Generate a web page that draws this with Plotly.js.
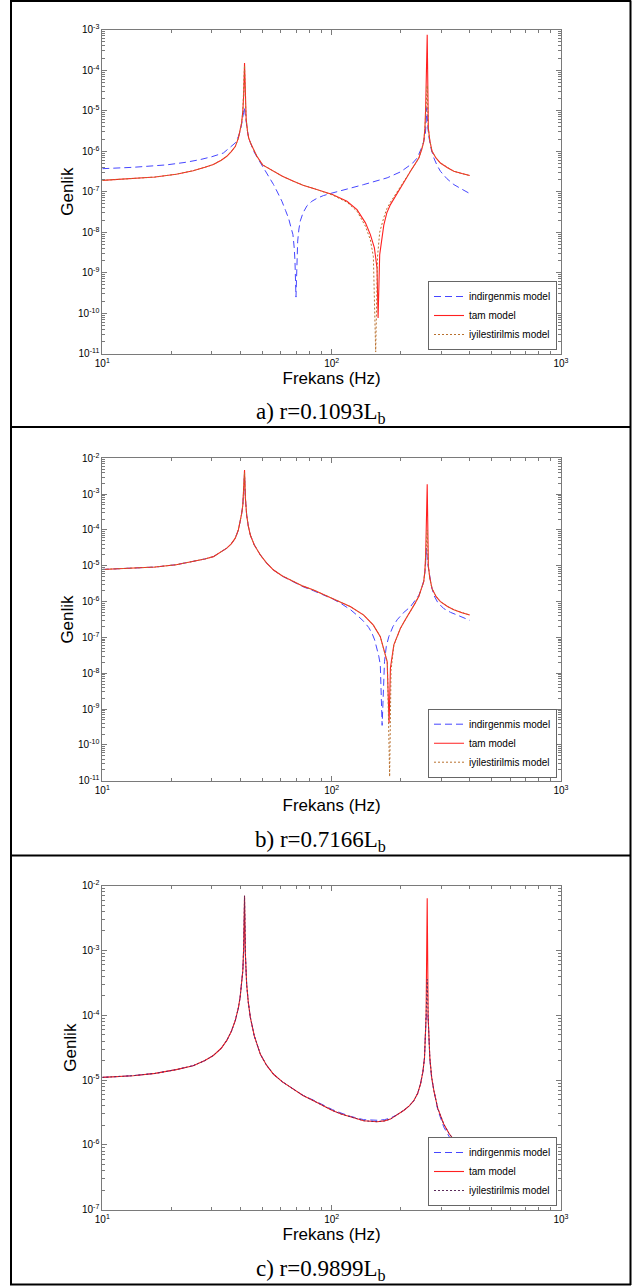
<!DOCTYPE html>
<html><head><meta charset="utf-8">
<script src="https://cdn.plot.ly/plotly-3.0.1.min.js"></script>
<style>html,body{margin:0;padding:0;background:#fff}#chart{width:632px;height:1286px}</style>
</head><body><div id="chart"></div>
<script>
// ---------- data ----------
const seriesNames = ['indirgenmis model', 'tam model', 'iyilestirilmis model'];
const captions = ['a) r=0.1093L<sub>b</sub>', 'b) r=0.7166L<sub>b</sub>', 'c) r=0.9899L<sub>b</sub>'];

// Panel a (r = 0.1093 Lb)
const fa_ind = [10, 13.6, 19.1, 23, 26.7, 30, 33.7, 36, 38.0, 39.2, 39.9, 40.6, 41.0, 41.3, 41.6, 42.0, 42.3, 43.0, 43.5, 44.5, 45.7, 48, 50.5, 53, 55.8, 58, 60.7, 63, 64.9, 66.5, 67.8, 68.7, 69.2, 69.9, 70.5, 71.1, 72, 73.0, 75, 78.1, 82, 86.4, 92, 98.6, 138, 174.6, 200, 213, 225, 236, 243, 248, 253, 256, 258, 260, 263, 266, 272, 279, 288, 298, 318, 341, 370, 400];
const a_ind = [3.7e-7, 4.0e-7, 4.6e-7, 5.3e-7, 6.2e-7, 7.3e-7, 9.0e-7, 1.2e-6, 1.6e-6, 2.3e-6, 3.1e-6, 5.0e-6, 6.5e-6, 9.0e-6, 1.2e-5, 8.0e-6, 5.0e-6, 3.0e-6, 2.1e-6, 1.45e-6, 1.0e-6, 6.2e-7, 3.9e-7, 2.5e-7, 1.5e-7, 9.8e-8, 5.8e-8, 3.4e-8, 2.2e-8, 1.3e-8, 8.7e-9, 4.0e-9, 1.9e-9, 2.5e-10, 2.5e-9, 6.0e-9, 1.2e-8, 1.9e-8, 3.0e-8, 4.5e-8, 5.8e-8, 6.9e-8, 8.0e-8, 9.0e-8, 1.5e-7, 2.2e-7, 3.1e-7, 3.9e-7, 5.0e-7, 6.8e-7, 9.5e-7, 1.3e-6, 1.9e-6, 2.6e-6, 4.5e-6, 1.2e-5, 3.5e-6, 2.1e-6, 1.1e-6, 6.8e-7, 4.5e-7, 3.2e-7, 2.1e-7, 1.5e-7, 1.15e-7, 9.0e-8];
const fa_tam = [10, 13.6, 17, 21, 24.9, 28, 30.5, 33, 34.9, 36.5, 38.0, 39.2, 39.9, 40.5, 41.0, 41.35, 41.7, 42.05, 42.4, 43.0, 43.5, 44.5, 45.7, 47.2, 50, 55.8, 61, 68.2, 75, 83.4, 92, 100.8, 116.6, 129, 140.4, 147.5, 153.6, 157.7, 159.4, 162, 168.8, 174, 180.4, 190, 199.5, 210, 220.6, 230, 240, 247, 252, 255, 257, 261, 264, 268, 274, 285, 298, 320, 341, 370, 400];
const a_tam = [1.9e-7, 2.1e-7, 2.3e-7, 2.7e-7, 3.3e-7, 4.0e-7, 4.7e-7, 6.0e-7, 7.5e-7, 9.8e-7, 1.3e-6, 2.1e-6, 3.1e-6, 5.0e-6, 9.8e-6, 2.5e-5, 1.5e-4, 2.0e-5, 6.0e-6, 3.0e-6, 2.1e-6, 1.5e-6, 1.1e-6, 7.5e-7, 4.6e-7, 3.2e-7, 2.4e-7, 1.8e-7, 1.45e-7, 1.2e-7, 1.0e-7, 8.5e-8, 5.8e-8, 3.6e-8, 1.7e-8, 8.7e-9, 4.1e-9, 1.3e-9, 7.6e-11, 2.8e-9, 1.5e-8, 3.0e-8, 4.8e-8, 8.0e-8, 1.2e-7, 2.0e-7, 3.2e-7, 4.6e-7, 6.8e-7, 1.1e-6, 1.7e-6, 3.5e-6, 1.2e-5, 7.5e-4, 3.7e-6, 1.8e-6, 1.0e-6, 6.8e-7, 5.1e-7, 3.9e-7, 3.2e-7, 2.8e-7, 2.5e-7];
const fa_iyi = [10, 13.6, 17, 21, 24.9, 28, 30.5, 33, 34.9, 36.5, 38.0, 39.2, 39.9, 40.5, 41.0, 41.35, 41.7, 42.05, 42.4, 43.0, 43.5, 44.5, 45.7, 47.2, 50, 55.8, 61, 68.2, 75, 83.4, 92, 100.8, 116.6, 129, 140.4, 147.5, 152, 155.6, 158.5, 162, 168.8, 174, 180.4, 190, 199.5, 210, 220.6, 230, 240, 247, 252, 255, 257, 261, 264, 268, 274, 285, 298, 320, 341, 370, 400];
const a_iyi = [1.9e-7, 2.1e-7, 2.3e-7, 2.7e-7, 3.3e-7, 4.0e-7, 4.7e-7, 6.0e-7, 7.5e-7, 9.8e-7, 1.3e-6, 2.1e-6, 3.1e-6, 5.0e-6, 9.5e-6, 2.4e-5, 1.3e-4, 2.0e-5, 6.0e-6, 3.0e-6, 2.1e-6, 1.5e-6, 1.1e-6, 7.5e-7, 4.6e-7, 3.2e-7, 2.4e-7, 1.8e-7, 1.45e-7, 1.2e-7, 1.0e-7, 8.3e-8, 5.5e-8, 3.3e-8, 1.4e-8, 6.5e-9, 2.5e-9, 1.1e-11, 2.5e-9, 1.0e-8, 2.3e-8, 3.8e-8, 5.5e-8, 8.6e-8, 1.25e-7, 2.0e-7, 3.2e-7, 4.6e-7, 6.8e-7, 1.1e-6, 1.7e-6, 3.5e-6, 1.2e-5, 4.2e-5, 3.7e-6, 1.8e-6, 1.0e-6, 6.8e-7, 5.1e-7, 3.9e-7, 3.2e-7, 2.8e-7, 2.5e-7];

// Panel b (r = 0.7166 Lb)
const fb_ind = [10, 13.6, 17, 21, 24.9, 28, 30.5, 33, 34.9, 36.5, 38.0, 39.2, 39.9, 40.5, 41.0, 41.35, 41.7, 42.05, 42.6, 43.3, 44.2, 46, 48.9, 52, 55.8, 61, 68.2, 75, 83.4, 92, 100.8, 110, 121, 130, 138, 145, 150, 154, 157.7, 160.5, 163, 166, 170, 173, 177.5, 185, 193, 205, 220.6, 230, 240, 247, 252, 256, 259, 262, 266, 272, 279, 290, 308, 330, 353, 375, 400];
const b_ind = [7.9e-6, 8.5e-6, 9.2e-6, 1.07e-5, 1.3e-5, 1.55e-5, 1.8e-5, 2.4e-5, 3.1e-5, 4.1e-5, 5.9e-5, 1.0e-4, 1.7e-4, 2.8e-4, 5.0e-4, 1.1e-3, 3.5e-3, 8.0e-4, 2.6e-4, 1.3e-4, 7.2e-5, 3.8e-5, 2.0e-5, 1.2e-5, 7.6e-6, 5.1e-6, 3.5e-6, 2.6e-6, 2.0e-6, 1.55e-6, 1.2e-6, 8.8e-7, 5.9e-7, 4.0e-7, 2.8e-7, 1.9e-7, 1.3e-7, 8.5e-8, 4.9e-8, 3.0e-8, 1.7e-8, 3.5e-10, 2.1e-8, 5.5e-8, 1.05e-7, 2.0e-7, 3.1e-7, 4.8e-7, 7.2e-7, 1.0e-6, 1.5e-6, 2.4e-6, 3.8e-6, 8.0e-6, 3.1e-5, 1.2e-5, 6.8e-6, 2.8e-6, 1.5e-6, 9.5e-7, 6.4e-7, 5.0e-7, 4.2e-7, 3.5e-7, 3.0e-7];
const fb_tam = [10, 13.6, 17, 21, 24.9, 28, 30.5, 33, 34.9, 36.5, 38.0, 39.2, 39.9, 40.5, 41.0, 41.35, 41.7, 42.05, 42.6, 43.3, 44.2, 46, 48.9, 52, 55.8, 61, 68.2, 75, 83.4, 92, 100.8, 110, 121, 138, 152, 163, 170.6, 174.6, 178, 180.4, 186.7, 199.5, 210, 220.6, 230, 240, 247, 252, 255, 257, 261, 264, 268, 274, 285, 298, 320, 341, 370, 400];
const b_tam = [7.9e-6, 8.5e-6, 9.2e-6, 1.07e-5, 1.3e-5, 1.55e-5, 1.8e-5, 2.4e-5, 3.1e-5, 4.1e-5, 5.9e-5, 1.0e-4, 1.7e-4, 2.8e-4, 5.0e-4, 1.1e-3, 4.7e-3, 8.0e-4, 2.6e-4, 1.3e-4, 7.2e-5, 3.8e-5, 2.0e-5, 1.2e-5, 7.6e-6, 5.2e-6, 3.6e-6, 2.7e-6, 2.1e-6, 1.6e-6, 1.25e-6, 9.8e-7, 7.2e-7, 4.2e-7, 2.2e-7, 1.05e-7, 4.0e-8, 2.1e-8, 4.0e-10, 1.4e-8, 6.2e-8, 1.8e-7, 3.2e-7, 5.2e-7, 8.5e-7, 1.4e-6, 2.3e-6, 3.6e-6, 7.0e-6, 2.0e-5, 1.9e-3, 1.0e-5, 4.5e-6, 2.3e-6, 1.4e-6, 1.0e-6, 7.3e-7, 5.9e-7, 4.9e-7, 4.2e-7];
const fb_iyi = [10, 13.6, 17, 21, 24.9, 28, 30.5, 33, 34.9, 36.5, 38.0, 39.2, 39.9, 40.5, 41.0, 41.35, 41.7, 42.05, 42.6, 43.3, 44.2, 46, 48.9, 52, 55.8, 61, 68.2, 75, 83.4, 92, 100.8, 110, 121, 138, 152, 163, 170.6, 175, 179, 181.5, 186.7, 199.5, 210, 220.6, 230, 240, 247, 252, 255, 257, 261, 264, 268, 274, 285, 298, 320, 341, 370, 400];
const b_iyi = [7.9e-6, 8.5e-6, 9.2e-6, 1.07e-5, 1.3e-5, 1.55e-5, 1.8e-5, 2.4e-5, 3.1e-5, 4.1e-5, 5.9e-5, 1.0e-4, 1.7e-4, 2.8e-4, 5.0e-4, 1.1e-3, 4.0e-3, 8.0e-4, 2.6e-4, 1.3e-4, 7.2e-5, 3.8e-5, 2.0e-5, 1.2e-5, 7.6e-6, 5.2e-6, 3.6e-6, 2.7e-6, 2.1e-6, 1.6e-6, 1.25e-6, 9.8e-7, 7.2e-7, 4.2e-7, 2.2e-7, 1.05e-7, 4.0e-8, 2.0e-8, 1.3e-11, 1.2e-8, 6.0e-8, 1.8e-7, 3.2e-7, 5.2e-7, 8.5e-7, 1.4e-6, 2.3e-6, 3.6e-6, 7.0e-6, 2.0e-5, 1.0e-4, 1.0e-5, 4.5e-6, 2.3e-6, 1.4e-6, 1.0e-6, 7.3e-7, 5.9e-7, 4.9e-7, 4.2e-7];

// Panel c (r = 0.9899 Lb)
const fc = [10, 13.6, 17, 21, 24.9, 28, 30.5, 33, 34.9, 36.5, 38.0, 39.2, 39.9, 40.5, 41.0, 41.35, 41.7, 42.05, 42.6, 43.3, 44.2, 46, 48.9, 52, 55.8, 61, 68.2, 75, 83.4, 92, 100.8, 110, 121, 138, 157.7, 170, 180.4, 192, 206, 218, 228, 237, 244, 250, 254, 258, 261, 263.5, 268, 273, 279, 290, 308, 325, 341, 370, 400];
const c_ind = [1.1e-5, 1.17e-5, 1.27e-5, 1.45e-5, 1.67e-5, 2.0e-5, 2.4e-5, 3.1e-5, 4.1e-5, 5.6e-5, 8.3e-5, 1.3e-4, 1.9e-4, 3.0e-4, 4.9e-4, 1.1e-3, 5.5e-3, 9.0e-4, 3.0e-4, 1.6e-4, 9.3e-5, 4.8e-5, 2.5e-5, 1.7e-5, 1.23e-5, 9.4e-6, 7.2e-6, 5.8e-6, 4.9e-6, 4.1e-6, 3.5e-6, 3.1e-6, 2.75e-6, 2.45e-6, 2.4e-6, 2.45e-6, 2.6e-6, 2.9e-6, 3.4e-6, 4.0e-6, 4.8e-6, 6.2e-6, 8.7e-6, 1.35e-5, 2.2e-5, 9.0e-5, 1.1e-4, 9.0e-5, 2.1e-5, 1.05e-5, 6.7e-6, 3.5e-6, 1.9e-6, 1.35e-6, 1.0e-6, 8.0e-7, 6.4e-7];
const c_tam = [1.1e-5, 1.17e-5, 1.27e-5, 1.45e-5, 1.67e-5, 2.0e-5, 2.4e-5, 3.1e-5, 4.1e-5, 5.6e-5, 8.3e-5, 1.3e-4, 1.9e-4, 3.0e-4, 4.9e-4, 1.1e-3, 7.0e-3, 9.0e-4, 3.0e-4, 1.6e-4, 9.3e-5, 4.8e-5, 2.5e-5, 1.7e-5, 1.23e-5, 9.4e-6, 7.2e-6, 5.8e-6, 4.8e-6, 4.0e-6, 3.4e-6, 3.0e-6, 2.7e-6, 2.36e-6, 2.28e-6, 2.35e-6, 2.5e-6, 2.85e-6, 3.4e-6, 4.0e-6, 4.8e-6, 6.2e-6, 8.7e-6, 1.35e-5, 2.2e-5, 9.3e-5, 6.4e-3, 9.3e-5, 2.2e-5, 1.1e-5, 6.9e-6, 3.7e-6, 2.1e-6, 1.5e-6, 1.2e-6, 9.8e-7, 8.2e-7];
const c_iyi = [1.1e-5, 1.17e-5, 1.27e-5, 1.45e-5, 1.67e-5, 2.0e-5, 2.4e-5, 3.1e-5, 4.1e-5, 5.6e-5, 8.3e-5, 1.3e-4, 1.9e-4, 3.0e-4, 4.9e-4, 1.1e-3, 7.0e-3, 9.0e-4, 3.0e-4, 1.6e-4, 9.3e-5, 4.8e-5, 2.5e-5, 1.7e-5, 1.23e-5, 9.4e-6, 7.2e-6, 5.8e-6, 4.8e-6, 4.0e-6, 3.4e-6, 3.0e-6, 2.7e-6, 2.36e-6, 2.28e-6, 2.35e-6, 2.5e-6, 2.85e-6, 3.4e-6, 4.0e-6, 4.8e-6, 6.2e-6, 8.7e-6, 1.35e-5, 2.2e-5, 9.3e-5, 3.6e-4, 9.3e-5, 2.2e-5, 1.1e-5, 6.9e-6, 3.7e-6, 2.1e-6, 1.5e-6, 1.2e-6, 9.8e-7, 8.2e-7];

// tick labels
const xTickVals = [10, 100, 1000];
const xTickText = ['10<sup>1</sup>', '10<sup>2</sup>', '10<sup>3</sup>'];
const yExpA = [-11, -10, -9, -8, -7, -6, -5, -4, -3];
const yExpB = [-11, -10, -9, -8, -7, -6, -5, -4, -3, -2];
const yExpC = [-7, -6, -5, -4, -3, -2];

// ---------- layout helpers ----------
const W = 632, H = 1286;
const px = v => v / W;
const py = v => 1 - v / H;
const FONT = 'Liberation Sans, Arial, sans-serif';
const SERIF = 'Liberation Serif, Times New Roman, serif';
const AX = '#7a7a7a';

function xAxis(anchor) {
  return {
    type: 'log', range: [1, 3], domain: [px(102.3), px(561)], anchor: anchor,
    tickmode: 'array', tickvals: xTickVals, ticktext: xTickText,
    ticks: 'inside', ticklen: 5, tickwidth: 1, tickcolor: AX,
    minor: {dtick: 'D1', ticks: 'inside', ticklen: 3, tickwidth: 1, tickcolor: AX, showgrid: false},
    showline: true, linecolor: AX, linewidth: 1, mirror: 'ticks',
    showgrid: false, zeroline: false,
    tickfont: {family: FONT, size: 10, color: '#000'},
    title: {text: 'Frekans (Hz)', font: {family: FONT, size: 17, color: '#000'}, standoff: 0}
  };
}
function yAxis(anchor, dom, exps) {
  return {
    type: 'log', range: [exps[0], exps[exps.length - 1]], domain: dom, anchor: anchor,
    tickmode: 'array', tickvals: exps.map(e => Math.pow(10, e)),
    ticktext: exps.map(e => '10<sup>' + e + '</sup>'),
    ticks: 'inside', ticklen: 5, tickwidth: 1, tickcolor: AX,
    minor: {dtick: 'D1', ticks: 'inside', ticklen: 3, tickwidth: 1, tickcolor: AX, showgrid: false},
    showline: true, linecolor: AX, linewidth: 1, mirror: 'ticks',
    showgrid: false, zeroline: false,
    tickfont: {family: FONT, size: 10, color: '#000'},
    title: {text: 'Genlik', font: {family: FONT, size: 17, color: '#000'}, standoff: 0}
  };
}
function legendAt(bottomPx) {
  return {
    x: px(557), xanchor: 'right', y: py(bottomPx), yanchor: 'bottom',
    bgcolor: '#fff', bordercolor: '#666', borderwidth: 1,
    font: {family: FONT, size: 10, color: '#000'}, tracegroupgap: 0
  };
}

const dotA = '#b8702e', dotC = '#5a2a5a';
function tr(x, y, k, ax, lg, dotColor) {
  const styles = [
    {color: '#4646ff', width: 1, dash: '7px,4px'},
    {color: '#ff2020', width: 1.1},
    {color: dotColor, width: 1, dash: '2px,2px'}
  ];
  return {x: x, y: y, type: 'scatter', mode: 'lines', name: seriesNames[k],
    xaxis: 'x' + ax, yaxis: 'y' + ax, legend: lg, line: styles[k], hoverinfo: 'skip'};
}

const data = [
  tr(fa_ind, a_ind, 0, '', 'legend', dotA),
  tr(fa_tam, a_tam, 1, '', 'legend', dotA),
  tr(fa_iyi, a_iyi, 2, '', 'legend', dotA),
  tr(fb_ind, b_ind, 0, '2', 'legend2', dotA),
  tr(fb_tam, b_tam, 1, '2', 'legend2', dotA),
  tr(fb_iyi, b_iyi, 2, '2', 'legend2', dotA),
  tr(fc, c_ind, 0, '3', 'legend3', dotC),
  tr(fc, c_tam, 1, '3', 'legend3', dotC),
  tr(fc, c_iyi, 2, '3', 'legend3', dotC)
];

function hline(yPx) {
  return {type: 'line', xref: 'paper', yref: 'paper', x0: px(10), x1: px(631), y0: py(yPx), y1: py(yPx), line: {color: '#000', width: 2}};
}
function vline(xPx) {
  return {type: 'line', xref: 'paper', yref: 'paper', x0: px(xPx), x1: px(xPx), y0: py(0.5), y1: py(1285), line: {color: '#000', width: 2}};
}
function caption(i, centerPx) {
  return {text: captions[i], xref: 'paper', yref: 'paper', x: px(320.7), y: py(centerPx),
    xanchor: 'center', yanchor: 'middle', showarrow: false,
    font: {family: SERIF, size: 23, color: '#000'}};
}

const layout = {
  width: W, height: H, margin: {l: 0, r: 0, t: 0, b: 0, pad: 0},
  paper_bgcolor: '#fff', plot_bgcolor: '#fff', showlegend: true,
  xaxis: xAxis('y'), yaxis: yAxis('x', [py(353.7), py(29.7)], yExpA),
  xaxis2: xAxis('y2'), yaxis2: yAxis('x2', [py(780.7), py(458.3)], yExpB),
  xaxis3: xAxis('y3'), yaxis3: yAxis('x3', [py(1209.7), py(885.7)], yExpC),
  legend: legendAt(350), legend2: legendAt(777.7), legend3: legendAt(1206),
  shapes: [hline(1), hline(427), hline(855.5), hline(1284.5), vline(11), vline(630.5)],
  annotations: [caption(0, 413.2), caption(1, 841.2), caption(2, 1270.2)]
};

Plotly.newPlot('chart', data, layout, {displayModeBar: false, staticPlot: true});
</script></body></html>
